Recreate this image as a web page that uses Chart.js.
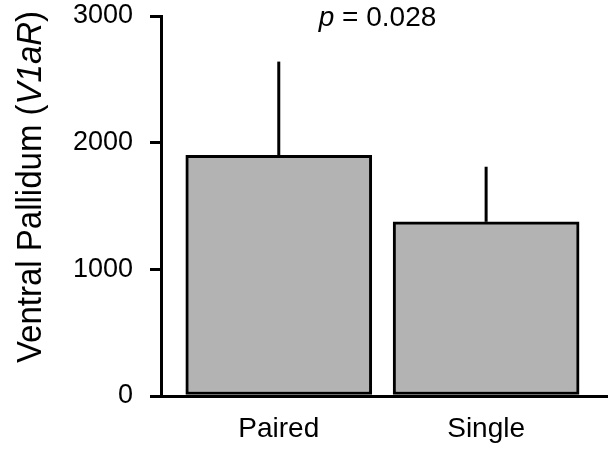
<!DOCTYPE html>
<html>
<head>
<meta charset="utf-8">
<script src="https://cdn.jsdelivr.net/npm/chart.js@4"></script>
<style>
  html, body { margin: 0; padding: 0; background: #fff; }
  #wrap { width: 613px; height: 453px; position: relative; }
</style>
</head>
<body>
<div id="wrap"><canvas id="chart"></canvas></div>
<script>
// ── data ──
const categories = ['Paired', 'Single'];
const means      = [1900, 1375];
const errUpper   = [740, 435];     // upper error only
const yTicks     = [0, 1000, 2000, 3000];
const pText      = '0.028';

const FONT = '"Liberation Sans", Arial, sans-serif';

// error bars (upper only, no caps)
const errorBars = {
  id: 'errorBars',
  afterDatasetsDraw(chart) {
    const { ctx, scales: { x, y } } = chart;
    ctx.save();
    ctx.strokeStyle = '#000';
    ctx.lineWidth = 3;
    means.forEach((m, i) => {
      const px = x.getPixelForValue(i);
      ctx.beginPath();
      ctx.moveTo(px, y.getPixelForValue(m));
      ctx.lineTo(px, y.getPixelForValue(m + errUpper[i]));
      ctx.stroke();
    });
    ctx.restore();
  }
};

// y title with italic gene name + p value annotation
const labels = {
  id: 'labels',
  afterDraw(chart) {
    const { ctx } = chart;
    ctx.save();
    ctx.fillStyle = '#000';
    ctx.textBaseline = 'alphabetic';

    // y axis title, rotated (glyphs a bit wider, as in the source figure)
    const parts = [
      ['Ventral Pallidum (', 'normal'],
      ['V1aR', 'italic'],
      [')', 'normal'],
    ];
    const size = 33;
    let total = 0;
    parts.forEach(p => { ctx.font = `${p[1]} ${size}px ${FONT}`; total += ctx.measureText(p[0]).width; });
    ctx.translate(41, 187);
    ctx.scale(1.08, 1);
    ctx.rotate(-Math.PI / 2);
    let cx = -total / 2;
    parts.forEach(p => {
      ctx.font = `${p[1]} ${size}px ${FONT}`;
      ctx.fillText(p[0], cx, 0);
      cx += ctx.measureText(p[0]).width;
    });
    ctx.setTransform(1, 0, 0, 1, 0, 0);

    // p value
    const pParts = [['p', 'italic'], [' = ' + pText, 'normal']];
    let w = 0;
    pParts.forEach(p => { ctx.font = `${p[1]} 28px ${FONT}`; w += ctx.measureText(p[0]).width; });
    let px = 377.5 - w / 2;
    pParts.forEach(p => {
      ctx.font = `${p[1]} 28px ${FONT}`;
      ctx.fillText(p[0], px, 26);
      px += ctx.measureText(p[0]).width;
    });
    ctx.restore();
  }
};

new Chart(document.getElementById('chart'), {
  type: 'bar',
  data: {
    datasets: [{
      data: means.map((v, i) => ({ x: i, y: v })),
      backgroundColor: '#b3b3b3',
      borderColor: '#000',
      borderWidth: 3,
      borderSkipped: false,
      barThickness: 186,
    }]
  },
  options: {
    responsive: true,
    maintainAspectRatio: false,
    animation: false,
    layout: { padding: { top: 16, right: 6, left: 0, bottom: 0 } },
    plugins: { legend: { display: false }, tooltip: { enabled: false } },
    scales: {
      x: {
        type: 'linear',
        offset: false,
        min: -0.568,
        max: 1.583,
        afterBuildTicks: s => { s.ticks = categories.map((c, i) => ({ value: i })); },
        afterFit: s => { s.height = 57; s.paddingLeft = 0; s.paddingRight = 0; },
        grid: { display: false, drawTicks: false },
        border: { display: true, color: '#000', width: 3 },
        ticks: {
          callback: v => categories[v],
          color: '#000',
          font: { family: FONT, size: 28 },
          padding: 16,
          maxRotation: 0,
        },
      },
      y: {
        min: 0,
        max: 3000,
        afterBuildTicks: s => { s.ticks = yTicks.map(v => ({ value: v })); },
        afterFit: s => { s.width = 161; s.paddingTop = 0; s.paddingBottom = 0; },
        grid: { drawOnChartArea: false, drawTicks: true, tickLength: 11, color: '#000', lineWidth: 3 },
        border: { display: true, color: '#000', width: 3 },
        ticks: {
          callback: v => String(v),
          color: '#000',
          font: { family: FONT, size: 27 },
          padding: 17,
        },
      },
    },
  },
  plugins: [errorBars, labels],
});
</script>
</body>
</html>
